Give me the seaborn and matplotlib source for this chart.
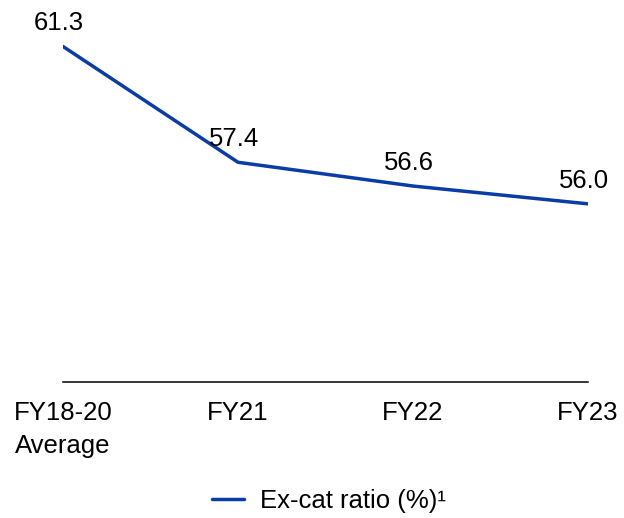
import pandas as pd
import seaborn as sns
import matplotlib.pyplot as plt

# Data
periods = ['FY18-20\nAverage', 'FY21', 'FY22', 'FY23']
excat_ratio = [61.3, 57.4, 56.6, 56.0]
series_name = 'Ex-cat ratio (%)\u00b9'

df = pd.DataFrame({'period': periods, 'ratio': excat_ratio})

sns.set_style('white')
plt.rcParams['font.family'] = ['Liberation Sans', 'DejaVu Sans']
plt.rcParams['text.color'] = 'black'

fig = plt.figure(figsize=(6.24, 5.18), dpi=100)
ax = fig.add_axes([63 / 624, 0.2625, (588 - 63) / 624, 0.6994])

sns.lineplot(data=df, x='period', y='ratio', ax=ax, color='#0A3CA5',
             linewidth=2.5, sort=False, label=series_name)

# value labels above each point
for i, v in enumerate(excat_ratio):
    ax.annotate(f'{v:.1f}', (i, v), xytext=(-3, 8), textcoords='offset points',
                ha='center', va='bottom', fontsize=18.5, color='black')

ax.set_xlim(0, 3)
ax.set_ylim(50, 62.2)
ax.set_xlabel('')
ax.set_ylabel('')
ax.set_yticks([])
ax.tick_params(axis='x', length=0, pad=14, labelsize=18.5, labelcolor='black')
for s in ['top', 'right', 'left']:
    ax.spines[s].set_visible(False)
ax.spines['bottom'].set_color('black')
ax.spines['bottom'].set_linewidth(1.1)
ax.patch.set_alpha(0)
for lbl in ax.get_xticklabels():
    lbl.set_multialignment('center')
    lbl.set_linespacing(1.45)

ax.get_legend().remove()
handles, labels = ax.get_legend_handles_labels()
fig.legend(handles, labels, loc='lower center', bbox_to_anchor=(0.527, -0.035),
           frameon=False, fontsize=18.5, handlelength=1.25, handletextpad=0.6,
           labelcolor='black')

fig.savefig('out.png', dpi=100)
